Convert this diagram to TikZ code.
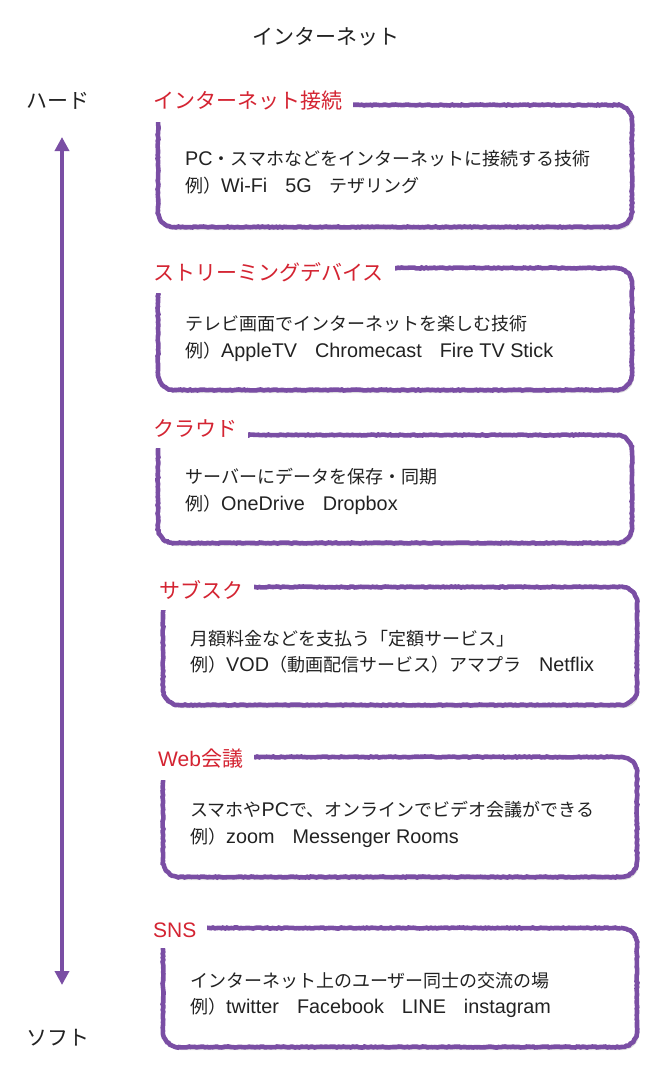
\documentclass[tikz,border=0pt]{standalone}
\usepackage{fontspec}
\setmainfont{Noto Sans CJK JP}
\newfontfamily\latin[Scale=1.1]{Liberation Sans}
\newfontfamily\titlelatin{Liberation Sans}
\usepackage{xcolor}
\usetikzlibrary{arrows.meta,decorations.pathmorphing,shadows}
\definecolor{brushpurple}{RGB}{122,78,164}
\definecolor{titlered}{RGB}{212,36,50}
\definecolor{inktext}{RGB}{34,34,34}
\newcommand{\lt}[1]{{\latin #1}}

\begin{document}
\begin{tikzpicture}[x=1pt,y=-1pt,
    card/.style={rectangle, fill=white, rounded corners=16pt, minimum width=474pt, minimum height=#1,
        drop shadow={shadow xshift=2pt, shadow yshift=-3pt, opacity=0.25},
        postaction={draw=brushpurple, line width=4.6pt, sharp corners, decorate,
            decoration={random steps, segment length=2pt, amplitude=0.5pt}}},
    cardtitle/.style={anchor=west, fill=white, inner xsep=11pt, inner ysep=11pt,
        text=titlered, font=\fontsize{21}{24}\selectfont},
    cardtext/.style={anchor=west, inner sep=0pt, align=left, text=inktext,
        font=\fontsize{18}{26.5}\selectfont},
    sidelabel/.style={text=inktext, font=\fontsize{21}{24}\selectfont}]
    \useasboundingbox (0,0) rectangle (662,1082);

    % Heading and axis
    \node[sidelabel] (head) at (326,37) {インターネット};
    \node[sidelabel] (hard) at (58,101) {ハード};
    \node[sidelabel] (soft) at (58,1038) {ソフト};
    \coordinate (hardtip) at (62,137);
    \coordinate (softtip) at (62,985);
    \draw[brushpurple, line width=3.5pt, {Triangle[width=14pt,length=14pt]}-{Triangle[width=14pt,length=14pt]}]
        (hardtip) -- (softtip);

    % Box 1
    \node[card=122pt] (net) at (395,166) {};
    \node[cardtext] (nettext) at (185,172.5) {\lt{PC}・スマホなどをインターネットに接続する技術\\例）\lt{Wi-Fi}　\lt{5G}　テザリング};
    \node[cardtitle] (nettitle) at (142,101) {インターネット接続};

    % Box 2
    \node[card=122pt] (stream) at (395,329) {};
    \node[cardtext] (streamtext) at (185,338.5) {テレビ画面でインターネットを楽しむ技術\\例）\lt{AppleTV}　\lt{Chromecast}　\lt{Fire TV Stick}};
    \node[cardtitle] (streamtitle) at (142,272) {ストリーミングデバイス};

    % Box 3
    \node[card=108pt] (cloud) at (395,489) {};
    \node[cardtext] (cloudtext) at (185,491.5) {サーバーにデータを保存・同期\\例）\lt{OneDrive}　\lt{Dropbox}};
    \node[cardtitle] (cloudtitle) at (142,428) {クラウド};

    % Box 4
    \node[card=118pt] (subs) at (400,646) {};
    \node[cardtext] (substext) at (190,651.5) {月額料金などを支払う「定額サービス」\\例）\lt{VOD}（動画配信サービス）アマプラ　\lt{Netflix}};
    \node[cardtitle] (substitle) at (148,590) {サブスク};

    % Box 5
    \node[card=120pt] (meet) at (400,817) {};
    \node[cardtext] (meettext) at (190,824.5) {スマホや\lt{PC}で、オンラインでビデオ会議ができる\\例）\lt{zoom}　\lt{Messenger Rooms}};
    \node[cardtitle] (meettitle) at (147,759) {{\titlelatin Web}会議};

    % Box 6
    \node[card=119pt] (sns) at (400,987.5) {};
    \node[cardtext] (snstext) at (190,995) {インターネット上のユーザー同士の交流の場\\例）\lt{twitter}　\lt{Facebook}　\lt{LINE}　\lt{instagram}};
    \node[cardtitle] (snstitle) at (142,930) {{\titlelatin SNS}};
\end{tikzpicture}
\end{document}
